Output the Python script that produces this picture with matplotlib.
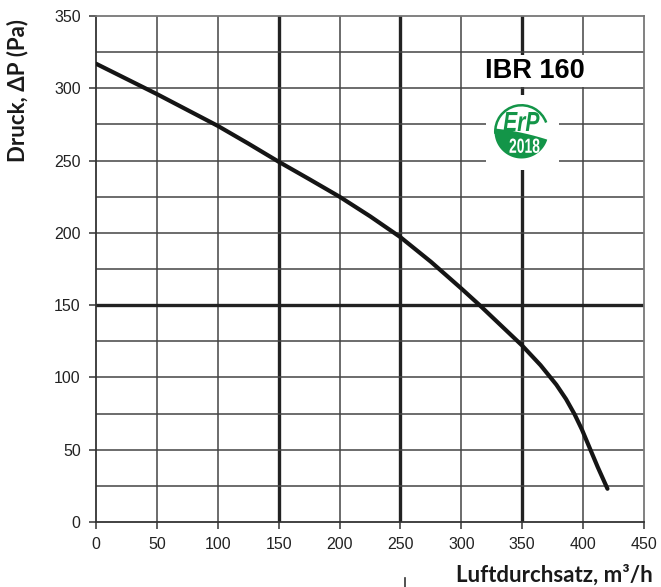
import numpy as np
import matplotlib.pyplot as plt
from matplotlib.patches import Polygon, PathPatch, Arc
from matplotlib.lines import Line2D
from matplotlib.textpath import TextPath
from matplotlib.font_manager import FontProperties
from matplotlib.transforms import Affine2D

plt.rcParams['font.family'] = ['Liberation Sans', 'DejaVu Sans']

# Kennlinie IBR 160
luftdurchsatz = [0, 25, 50, 75, 100, 125, 150, 175, 200, 225, 250, 275, 300, 315,
                 325, 350, 365, 378, 386, 393, 399, 405, 412, 420]
druck = [317, 306.5, 296, 285, 274, 261.8, 249.2, 237.2, 225, 211.5, 197, 180, 161.5, 150,
         142, 122, 108.5, 95, 85, 74.5, 64, 52, 38, 23]

x_ticks = [0, 50, 100, 150, 200, 250, 300, 350, 400, 450]
y_ticks = [0, 50, 100, 150, 200, 250, 300, 350]
x_dick = [150, 250, 350]
y_dick = [150]

titel = "IBR 160"

fig = plt.figure(figsize=(6.61, 5.87), dpi=100)
ax = fig.add_axes([96 / 661, 1 - 522 / 587, 548 / 661, 506 / 587])

ax.set_xlim(0, 450)
ax.set_ylim(0, 350)

# Gitter
for xv in x_ticks[1:-1]:
    lw = 2.4 if xv in x_dick else 1.1
    col = '#222222' if xv in x_dick else '#444444'
    ax.axvline(xv, color=col, lw=lw, zorder=1)
for yv in np.arange(25, 350, 25):
    lw = 2.4 if yv in y_dick else 1.1
    col = '#222222' if yv in y_dick else '#444444'
    ax.axhline(yv, color=col, lw=lw, zorder=1)

for s in ['left', 'bottom']:
    ax.spines[s].set_color('#333333')
    ax.spines[s].set_linewidth(1.3)
for s in ['top', 'right']:
    ax.spines[s].set_color('#777777')
    ax.spines[s].set_linewidth(1.3)

ax.set_xticks(x_ticks)
ax.set_yticks(y_ticks)
ax.tick_params(direction='out', length=5, width=1.1, color='#333333',
               labelsize=11.5, labelcolor='#222222', pad=6)

ax.plot(luftdurchsatz, druck, color='#151515', lw=3.0, solid_capstyle='round',
        solid_joinstyle='round', zorder=5)

# Titel mit weissem Hintergrund
ax.text(360.5, 312, titel, fontsize=19.5, fontweight='bold',
        ha='center', va='center', color='black', zorder=6,
        bbox=dict(facecolor='white', edgecolor='none', pad=2.0))

fig.text(18 / 661, 1 - 91 / 587, "Druck, ΔP (Pa)", rotation=90, ha='center', va='center',
         fontsize=16, fontweight='bold', family='Lato', color='#1a1a1a')
fig.text(653 / 661, 1 - 575 / 587, "Luftdurchsatz, m³/h", ha='right', va='center',
         fontsize=16, fontweight='bold', family='Lato', color='#1a1a1a')

fig.add_artist(Line2D([405 / 661, 405 / 661], [0, 1 - 578 / 587], color='#333333', lw=1.2))

# ErP Logo (Pixelkoordinaten, y nach oben)
lax = fig.add_axes([486 / 661, 1 - 170 / 587, 73 / 661, 75 / 587])
lax.set_xlim(486, 559)
lax.set_ylim(587 - 170, 587 - 95)
lax.set_facecolor('white')
for s in lax.spines.values():
    s.set_visible(False)
lax.set_xticks([])
lax.set_yticks([])
gruen = '#139548'
cx, cy, r = 521.5, 587 - 131.5, 27.0

# Ring oben
lax.add_patch(Arc((cx, cy), 2 * r - 1.5, 2 * r - 1.5, theta1=20, theta2=185, color=gruen, lw=1.8))
# Blatt unten
t_unten = np.linspace(np.radians(173.6), np.radians(341.6), 60)
unten = [(cx + r * np.cos(t), cy + r * np.sin(t)) for t in t_unten]
k = np.linspace(np.cos(np.radians(341.6)), np.cos(np.radians(173.6)), 40)
oben = [(cx + r * kk, cy - 2.75 - 5.75 * kk + 1.5 * (1 - kk ** 2)) for kk in k]
lax.add_patch(Polygon(unten + oben, closed=True, facecolor=gruen, edgecolor='none'))


def schrift(text, x0, y0, breite, hoehe, farbe, stil):
    prop = FontProperties(family='Liberation Sans', weight='bold', style=stil)
    tp = TextPath((0, 0), text, size=1, prop=prop)
    ext = tp.get_extents()
    tr = Affine2D().translate(-ext.x0, -ext.y0).scale(breite / ext.width, hoehe / ext.height)
    tr = tr.translate(x0, y0)
    lax.add_patch(PathPatch(tr.transform_path(tp), facecolor=farbe, edgecolor='none'))


schrift("ErP", 503.5, 587 - 131, 36, 19, gruen, 'italic')
schrift("2018", 509.5, 587 - 153, 30, 14.5, 'white', 'normal')

fig.savefig('out.png', dpi=100)
